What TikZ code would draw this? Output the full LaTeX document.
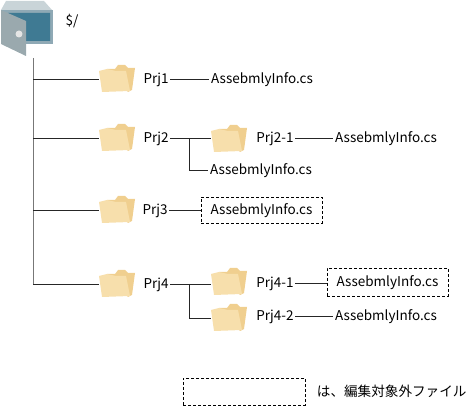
\documentclass[tikz,border=0pt]{standalone}
\usepackage{fontspec}
\setmainfont{Noto Sans CJK JP}
\usepackage{tikz}
\usetikzlibrary{positioning}
\definecolor{folderback}{HTML}{F0CF8F}
\definecolor{folderfront}{HTML}{F7DFAC}
\definecolor{safelid}{HTML}{C9D4D8}
\definecolor{safebody}{HTML}{8FA9B5}
\definecolor{safeinner}{HTML}{3F7A93}
\definecolor{safedoor}{HTML}{9AA9AE}
\definecolor{trunkgray}{HTML}{777777}
\tikzset{
  folder/.pic={
    \fill[folderback] (-10,-10) -- (-2,-10) -- (1,-14) -- (8,-14) -- (11,-11) -- (18,-11) -- (15,11) -- (11,13) -- cycle;
    \fill[folderfront] (-18,-8) -- (-10,-10) -- (-1,-8) -- (9,-8) -- (13,12) -- (-15,13) -- cycle;
  },
  safe/.pic={
    \fill[safelid] (-26,-18) -- (-21,-27) -- (17,-27) -- (25,-18) -- cycle;
    \fill[safebody] (-26,-18) rectangle (26,16);
    \fill[safeinner] (-19,-15) -- (23,-15) -- (23,13) -- (-1,13) -- cycle;
    \fill[safeinner] (-1,-10) rectangle (23,13);
    \fill[safedoor] (-26,-18) -- (-1,-7) -- (-1,28) -- (-26,16) -- cycle;
    \fill[gray!20] (-8,6) circle (3.5);
  }
}
\begin{document}
\begin{tikzpicture}[x=1pt, y=-1pt, every node/.style={font=\fontsize{13.5}{16}\selectfont},
                      lbl/.style={inner sep=1.5pt, text height=10pt, text depth=0pt},
                      dir/.style={inner sep=0pt, minimum width=36pt, minimum height=27pt},
                      excl/.style={draw, densely dashed, inner sep=0pt, text height=10pt, text depth=0pt,
                                   minimum width=121pt, minimum height=26pt},
                      conn/.style={line width=0.8pt, black!85},
                      trunk/.style={line width=1pt, trunkgray}]
    \useasboundingbox (0,0) rectangle (469,406);
    \node (root) [dir, minimum width=52pt, minimum height=55pt] at (27,28) {};
    \pic at (root) {safe};
    \node (rootlbl) [lbl] at (72,21) {\$/};
    \coordinate (top) at (33,58);

    % Prj1
    \node (f1) [dir] at (117,79) {}; \pic at (f1) {folder};
    \node (p1) [lbl] at (156,79) {Prj1};
    \node (a1) [lbl] at (262,79) {AssebmlyInfo.cs};
    \draw[conn] (p1)--(a1);

    % Prj2
    \node (f2) [dir] at (117,138) {}; \pic at (f2) {folder};
    \node (p2) [lbl] at (156,138) {Prj2};
    \node (f21) [dir] at (229,139) {}; \pic at (f21) {folder};
    \node (p21) [lbl] at (275,138) {Prj2-1};
    \node (a21) [lbl] at (386,138) {AssebmlyInfo.cs};
    \node (a2) [lbl] at (261,170) {AssebmlyInfo.cs};
    \coordinate (k2) at (189,138);
    \draw[conn] (p2)--(f21.west |- p2); \draw[conn] (p21)--(a21);
    \draw[conn] (k2)|-(a2);

    % Prj3
    \node (f3) [dir] at (117,210) {}; \pic at (f3) {folder};
    \node (p3) [lbl] at (155,210) {Prj3};
    \node (a3) [excl] at (261.5,210) {AssebmlyInfo.cs};
    \draw[conn] (p3)--(a3);

    % Prj4
    \node (f4) [dir] at (117,284) {}; \pic at (f4) {folder};
    \node (p4) [lbl] at (156,284) {Prj4};
    \node (f41) [dir] at (229,282) {}; \pic at (f41) {folder};
    \node (f42) [dir] at (229,318) {}; \pic at (f42) {folder};
    \node (p41) [lbl] at (275,283) {Prj4-1};
    \node (p42) [lbl] at (275,316) {Prj4-2};
    \node (a41) [excl, minimum height=28pt] at (387.5,282) {AssebmlyInfo.cs};
    \node (a42) [lbl] at (386,316) {AssebmlyInfo.cs};
    \coordinate (k4) at (189,284);
    \draw[conn] (p4)--(f41.west |- p4); \draw[conn] (p41)--(p41 -| a41.west);
    \draw[conn] (p42)--(a42);
    \draw[conn] (k4)|-(f42);

    % trunk
    \coordinate (bot) at (33,284);
    \draw[trunk] (top)--(bot);
    \draw[conn] (top |- f1)--(f1);
    \draw[conn] (top |- f2)--(f2);
    \draw[conn] (top |- f3)--(f3);
    \draw[conn] (bot)--(f4);

    % legend
    \node (key) [excl, minimum width=122pt, minimum height=27pt] at (244,391.5) {};
    \node (keylbl) [lbl, font=\fontsize{13.6}{16}\selectfont, right=10pt of key] {は、編集対象外ファイル};
  \end{tikzpicture}
\end{document}
